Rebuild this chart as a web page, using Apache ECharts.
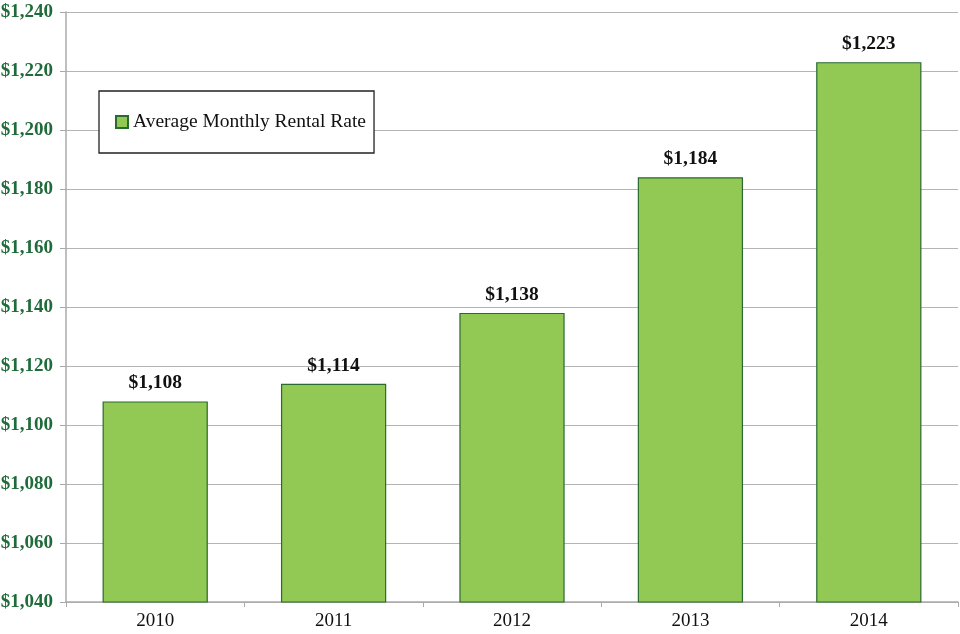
<!DOCTYPE html>
<html><head><meta charset="utf-8">
<script src="https://cdn.jsdelivr.net/npm/echarts@6/dist/echarts.min.js"></script>
<style>html,body{margin:0;padding:0;background:#fff}#c{width:960px;height:634px}</style>
</head><body><div id="c"></div>
<script>
const categories = ['2010','2011','2012','2013','2014'];
const rentalRates = [1108, 1114, 1138, 1184, 1223];
const seriesName = 'Average Monthly Rental Rate';
const yMin = 1040, yMax = 1240, yStep = 20;

const fmt = v => '$' + v.toLocaleString('en-US');
const chart = echarts.init(document.getElementById('c'), null, {renderer:'canvas'});
chart.setOption({
  animation:false,
  backgroundColor:'#fff',
  grid:{left:66, right:2, top:12, bottom:32, containLabel:false, outerBoundsMode:'none'},
  legend:{
    left:99, top:91, width:276,
    orient:'horizontal',
    backgroundColor:'#fff',
    borderColor:'#222', borderWidth:1.3,
    padding:[21,8,21,16],
    itemWidth:12, itemHeight:12, itemGap:6,
    icon:'rect',
    textStyle:{fontFamily:'Liberation Serif', fontSize:19.5, color:'#111'},
    data:[seriesName]
  },
  xAxis:{
    type:'category', data:categories,
    axisLine:{lineStyle:{color:'#aaa', width:1.5}},
    axisTick:{show:true, length:5, lineStyle:{color:'#aaa'}},
    axisLabel:{fontFamily:'Liberation Serif', fontSize:19, color:'#111', margin:10}
  },
  yAxis:{
    type:'value', min:yMin, max:yMax, interval:yStep,
    axisLine:{show:true, lineStyle:{color:'#aaa', width:1.5}},
    axisTick:{show:true, length:6, lineStyle:{color:'#aaa'}},
    splitLine:{lineStyle:{color:'#b4b4b4', width:1.2}},
    axisLabel:{fontFamily:'Liberation Serif', fontSize:19, fontWeight:'bold', color:'#1f6b3a', margin:13, formatter:fmt}
  },
  series:[{
    name:seriesName, type:'bar', data:rentalRates,
    barWidth:'59%',
    itemStyle:{color:'#92c954', borderColor:'#2a6a2e', borderWidth:1.2},
    label:{show:true, position:'top', distance:8, formatter:p=>fmt(p.value),
      fontFamily:'Liberation Serif', fontSize:19.5, fontWeight:'bold', color:'#111'}
  }]
});
</script></body></html>
